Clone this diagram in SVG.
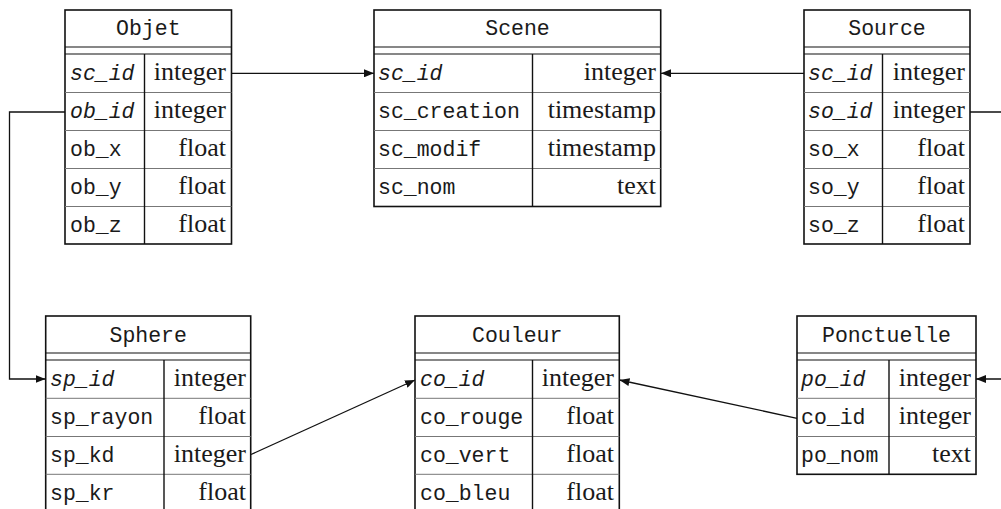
<svg xmlns="http://www.w3.org/2000/svg" width="1001" height="509" viewBox="0 0 1001 509">
<style>
.box{fill:#fff;stroke:#111;stroke-width:1.6}
.hl{stroke:#111;stroke-width:1.2}
.rl{stroke:#777;stroke-width:1}
.cl{stroke:#111;stroke-width:1.4}
.t{font-family:"Liberation Mono","DejaVu Sans Mono",monospace;font-size:21.5px;fill:#1a1a1a}
.h{text-anchor:middle}
.k{font-style:italic}
.ty{font-family:"Liberation Serif","DejaVu Serif",serif;font-size:26px;fill:#1a1a1a;text-anchor:end}
.c{fill:none;stroke:#111;stroke-width:1.3}
</style>
<defs>
<marker id="ar" viewBox="0 0 10 8" refX="10" refY="4" markerWidth="10" markerHeight="8" markerUnits="userSpaceOnUse" orient="auto">
<path d="M0,0 L10,4 L0,8 Z" fill="#111"/>
</marker>
</defs>

<g id="connectors">
<path class="c" d="M232,73.3 H374" marker-end="url(#ar)"/>
<path class="c" d="M804,73.3 H661" marker-end="url(#ar)"/>
<path class="c" d="M65,112 H9.5 V379 H45.5" marker-end="url(#ar)"/>
<path class="c" d="M970,112 H1010 V379 H976" marker-end="url(#ar)"/>
<path class="c" d="M251,454.5 L415,380" marker-end="url(#ar)"/>
<path class="c" d="M797,418.3 L619.5,380" marker-end="url(#ar)"/>
</g>

<g id="objet">
<rect class="box" x="65" y="10" width="166.5" height="234"/>
<line class="hl" x1="65" y1="47" x2="231.5" y2="47"/>
<line class="hl" x1="65" y1="54" x2="231.5" y2="54"/>
<line class="rl" x1="65" y1="92.5" x2="231.5" y2="92.5"/>
<line class="rl" x1="65" y1="130.5" x2="231.5" y2="130.5"/>
<line class="rl" x1="65" y1="168.5" x2="231.5" y2="168.5"/>
<line class="rl" x1="65" y1="206.5" x2="231.5" y2="206.5"/>
<line class="cl" x1="144.5" y1="54" x2="144.5" y2="244"/>
<text class="t h" x="148.3" y="35">Objet</text>
<text class="t k" x="70" y="80">sc_id</text>
<text class="t k" x="70" y="118">ob_id</text>
<text class="t" x="70" y="156">ob_x</text>
<text class="t" x="70" y="194">ob_y</text>
<text class="t" x="70" y="232">ob_z</text>
<text class="ty" x="226" y="80">integer</text>
<text class="ty" x="226" y="118">integer</text>
<text class="ty" x="226" y="156">float</text>
<text class="ty" x="226" y="194">float</text>
<text class="ty" x="226" y="232">float</text>
</g>

<g id="scene">
<rect class="box" x="374" y="10" width="286.7" height="196.5"/>
<line class="hl" x1="374" y1="47" x2="660.7" y2="47"/>
<line class="hl" x1="374" y1="54" x2="660.7" y2="54"/>
<line class="rl" x1="374" y1="92.5" x2="660.7" y2="92.5"/>
<line class="rl" x1="374" y1="130.5" x2="660.7" y2="130.5"/>
<line class="rl" x1="374" y1="168.5" x2="660.7" y2="168.5"/>
<line class="cl" x1="532.5" y1="54" x2="532.5" y2="206.5"/>
<text class="t h" x="517.5" y="35">Scene</text>
<text class="t k" x="378" y="80">sc_id</text>
<text class="t" x="378" y="118">sc_creation</text>
<text class="t" x="378" y="156">sc_modif</text>
<text class="t" x="378" y="194">sc_nom</text>
<text class="ty" x="656" y="80">integer</text>
<text class="ty" x="656" y="118">timestamp</text>
<text class="ty" x="656" y="156">timestamp</text>
<text class="ty" x="656" y="194">text</text>
</g>

<g id="source">
<rect class="box" x="804" y="10" width="166" height="234"/>
<line class="hl" x1="804" y1="47" x2="970" y2="47"/>
<line class="hl" x1="804" y1="54" x2="970" y2="54"/>
<line class="rl" x1="804" y1="92.5" x2="970" y2="92.5"/>
<line class="rl" x1="804" y1="130.5" x2="970" y2="130.5"/>
<line class="rl" x1="804" y1="168.5" x2="970" y2="168.5"/>
<line class="rl" x1="804" y1="206.5" x2="970" y2="206.5"/>
<line class="cl" x1="882.5" y1="54" x2="882.5" y2="244"/>
<text class="t h" x="887" y="35">Source</text>
<text class="t k" x="808" y="80">sc_id</text>
<text class="t k" x="808" y="118">so_id</text>
<text class="t" x="808" y="156">so_x</text>
<text class="t" x="808" y="194">so_y</text>
<text class="t" x="808" y="232">so_z</text>
<text class="ty" x="965" y="80">integer</text>
<text class="ty" x="965" y="118">integer</text>
<text class="ty" x="965" y="156">float</text>
<text class="ty" x="965" y="194">float</text>
<text class="ty" x="965" y="232">float</text>
</g>

<g id="sphere">
<rect class="box" x="45.7" y="316" width="205" height="196"/>
<line class="hl" x1="45.7" y1="353" x2="250.7" y2="353"/>
<line class="hl" x1="45.7" y1="360" x2="250.7" y2="360"/>
<line class="rl" x1="45.7" y1="398.3" x2="250.7" y2="398.3"/>
<line class="rl" x1="45.7" y1="436.5" x2="250.7" y2="436.5"/>
<line class="rl" x1="45.7" y1="474.3" x2="250.7" y2="474.3"/>
<line class="cl" x1="164" y1="360" x2="164" y2="512"/>
<text class="t h" x="148.2" y="342">Sphere</text>
<text class="t k" x="50" y="386">sp_id</text>
<text class="t" x="50" y="424">sp_rayon</text>
<text class="t" x="50" y="462">sp_kd</text>
<text class="t" x="50" y="500">sp_kr</text>
<text class="ty" x="246" y="386">integer</text>
<text class="ty" x="246" y="424">float</text>
<text class="ty" x="246" y="462">integer</text>
<text class="ty" x="246" y="500">float</text>
</g>

<g id="couleur">
<rect class="box" x="415" y="316" width="204.3" height="196"/>
<line class="hl" x1="415" y1="353" x2="619.3" y2="353"/>
<line class="hl" x1="415" y1="360" x2="619.3" y2="360"/>
<line class="rl" x1="415" y1="398.3" x2="619.3" y2="398.3"/>
<line class="rl" x1="415" y1="436.5" x2="619.3" y2="436.5"/>
<line class="rl" x1="415" y1="474.3" x2="619.3" y2="474.3"/>
<line class="cl" x1="532.5" y1="360" x2="532.5" y2="512"/>
<text class="t h" x="517.2" y="342">Couleur</text>
<text class="t k" x="420" y="386">co_id</text>
<text class="t" x="420" y="424">co_rouge</text>
<text class="t" x="420" y="462">co_vert</text>
<text class="t" x="420" y="500">co_bleu</text>
<text class="ty" x="614" y="386">integer</text>
<text class="ty" x="614" y="424">float</text>
<text class="ty" x="614" y="462">float</text>
<text class="ty" x="614" y="500">float</text>
</g>

<g id="ponctuelle">
<rect class="box" x="797" y="316" width="179" height="158.3"/>
<line class="hl" x1="797" y1="353" x2="976" y2="353"/>
<line class="hl" x1="797" y1="360" x2="976" y2="360"/>
<line class="rl" x1="797" y1="398.3" x2="976" y2="398.3"/>
<line class="rl" x1="797" y1="436.5" x2="976" y2="436.5"/>
<line class="cl" x1="889" y1="360" x2="889" y2="474.3"/>
<text class="t h" x="886.5" y="342">Ponctuelle</text>
<text class="t k" x="801" y="386">po_id</text>
<text class="t" x="801" y="424">co_id</text>
<text class="t" x="801" y="462">po_nom</text>
<text class="ty" x="971" y="386">integer</text>
<text class="ty" x="971" y="424">integer</text>
<text class="ty" x="971" y="462">text</text>
</g>
</svg>
